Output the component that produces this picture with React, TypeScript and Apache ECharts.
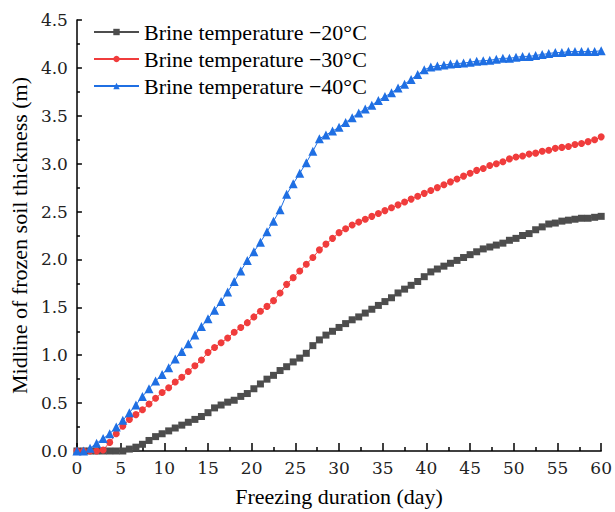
import React, { useEffect, useRef } from "react";
import * as echarts from "echarts";

const days = [0, 0.75, 1.5, 2.25, 3, 3.75, 4.5, 5.25, 6, 6.75, 7.5, 8.25, 9, 9.75, 10.5, 11.25, 12, 12.75, 13.5, 14.25, 15, 15.75, 16.5, 17.25, 18, 18.75, 19.5, 20.25, 21, 21.75, 22.5, 23.25, 24, 24.75, 25.5, 26.25, 27, 27.75, 28.5, 29.25, 30, 30.75, 31.5, 32.25, 33, 33.75, 34.5, 35.25, 36, 36.75, 37.5, 38.25, 39, 39.75, 40.5, 41.25, 42, 42.75, 43.5, 44.25, 45, 45.75, 46.5, 47.25, 48, 48.75, 49.5, 50.25, 51, 51.75, 52.5, 53.25, 54, 54.75, 55.5, 56.25, 57, 57.75, 58.5, 59.25, 60];

const brine20 = [0, 0, 0, 0, 0, 0, 0, 0, 0.02, 0.04, 0.07, 0.11, 0.15, 0.18, 0.21, 0.24, 0.27, 0.30, 0.33, 0.36, 0.40, 0.45, 0.48, 0.51, 0.53, 0.57, 0.60, 0.65, 0.70, 0.75, 0.79, 0.84, 0.88, 0.93, 0.97, 1.02, 1.10, 1.16, 1.21, 1.25, 1.29, 1.33, 1.37, 1.40, 1.44, 1.48, 1.52, 1.56, 1.60, 1.65, 1.69, 1.73, 1.77, 1.82, 1.87, 1.90, 1.93, 1.96, 1.99, 2.02, 2.05, 2.08, 2.11, 2.13, 2.15, 2.17, 2.20, 2.22, 2.25, 2.27, 2.31, 2.34, 2.37, 2.38, 2.40, 2.41, 2.42, 2.43, 2.43, 2.44, 2.45];

const brine30 = [0, 0, 0, 0, 0.01, 0.09, 0.18, 0.26, 0.33, 0.38, 0.43, 0.49, 0.55, 0.61, 0.66, 0.72, 0.77, 0.83, 0.89, 0.95, 1.03, 1.08, 1.13, 1.18, 1.24, 1.29, 1.34, 1.40, 1.46, 1.51, 1.57, 1.65, 1.74, 1.81, 1.88, 1.95, 2.02, 2.10, 2.16, 2.22, 2.28, 2.32, 2.36, 2.39, 2.42, 2.45, 2.48, 2.51, 2.54, 2.57, 2.60, 2.63, 2.66, 2.69, 2.72, 2.75, 2.78, 2.81, 2.84, 2.87, 2.90, 2.93, 2.95, 2.98, 3.00, 3.02, 3.05, 3.07, 3.08, 3.10, 3.11, 3.13, 3.14, 3.16, 3.17, 3.18, 3.20, 3.21, 3.23, 3.25, 3.28];

const brine40 = [0, 0, 0.03, 0.08, 0.13, 0.18, 0.25, 0.32, 0.40, 0.48, 0.57, 0.65, 0.73, 0.80, 0.87, 0.96, 1.04, 1.12, 1.21, 1.30, 1.38, 1.47, 1.56, 1.66, 1.77, 1.88, 1.99, 2.08, 2.18, 2.29, 2.40, 2.52, 2.68, 2.79, 2.90, 3.01, 3.13, 3.26, 3.30, 3.34, 3.38, 3.43, 3.48, 3.53, 3.57, 3.61, 3.66, 3.70, 3.74, 3.79, 3.83, 3.88, 3.93, 3.98, 4.01, 4.02, 4.03, 4.04, 4.045, 4.05, 4.06, 4.07, 4.075, 4.08, 4.09, 4.10, 4.10, 4.11, 4.12, 4.12, 4.13, 4.14, 4.15, 4.16, 4.16, 4.17, 4.17, 4.17, 4.17, 4.17, 4.18];

const seriesNames = ["Brine temperature \u221220\u00b0C", "Brine temperature \u221230\u00b0C", "Brine temperature \u221240\u00b0C"];
const seriesColors = ["#4d4d4d", "#f03c3c", "#1f6fe3"];

const serif = "Liberation Serif";
const tickFont = "DejaVu Serif";

export default function App() {
  const ref = useRef<HTMLDivElement>(null);
  useEffect(() => {
    document.body.style.margin = "0";
    if (!ref.current) return;
    const chart = echarts.init(ref.current, undefined, { renderer: "svg" });
    const pair = (vals: number[]) => days.map((d, i) => [d, vals[i]]);
    const mk = (idx: number, vals: number[], symbol: string, size: number) => ({
      name: seriesNames[idx],
      type: "line",
      data: pair(vals),
      symbol,
      symbolSize: size,
      showSymbol: true,
      lineStyle: { color: seriesColors[idx], width: 1 },
      itemStyle: { color: seriesColors[idx] },
      emphasis: { disabled: true },
    });
    chart.setOption({
      animation: false,
      backgroundColor: "#ffffff",
      grid: { left: 75, right: 8, top: 20, bottom: 60, containLabel: false },
      legend: {
        orient: "vertical",
        left: 88,
        top: 16,
        itemWidth: 45,
        itemHeight: 8,
        itemGap: 5,
        textStyle: { fontFamily: serif, fontSize: 22, color: "#000" },
        data: seriesNames,
      },
      xAxis: {
        type: "value",
        min: 0,
        max: 60,
        interval: 5,
        name: "Freezing duration (day)",
        nameLocation: "middle",
        nameGap: 34,
        nameTextStyle: { fontFamily: serif, fontSize: 22, color: "#000" },
        axisLine: { show: true, onZero: false, lineStyle: { color: "#000", width: 1.5 } },
        axisTick: { show: true, inside: true, length: 8, lineStyle: { color: "#000", width: 1.5 } },
        minorTick: { show: true, splitNumber: 2, length: 4, lineStyle: { color: "#000", width: 1.5 } },
        axisLabel: { fontFamily: tickFont, fontSize: 17, color: "#222", margin: 8 },
        splitLine: { show: false },
      },
      yAxis: {
        type: "value",
        min: 0,
        max: 4.5,
        interval: 0.5,
        name: "Midline of frozen soil thickness (m)",
        nameLocation: "middle",
        nameGap: 34,
        nameTextStyle: { fontFamily: serif, fontSize: 22, color: "#000" },
        axisLine: { show: true, lineStyle: { color: "#000", width: 1.5 } },
        axisTick: { show: true, inside: true, length: 5, lineStyle: { color: "#000", width: 1.5 } },
        minorTick: { show: true, splitNumber: 2, length: 3, lineStyle: { color: "#000", width: 1.5 } },
        axisLabel: {
          fontFamily: tickFont,
          fontSize: 17,
          color: "#222",
          margin: 9,
          formatter: (v: number) => v.toFixed(1),
        },
        splitLine: { show: false },
      },
      series: [
        mk(0, brine20, "rect", 7),
        mk(1, brine30, "circle", 7),
        mk(2, brine40, "triangle", 9),
      ],
    });
    return () => chart.dispose();
  }, []);
  return <div ref={ref} style={{ width: 615, height: 512 }} />;
}
